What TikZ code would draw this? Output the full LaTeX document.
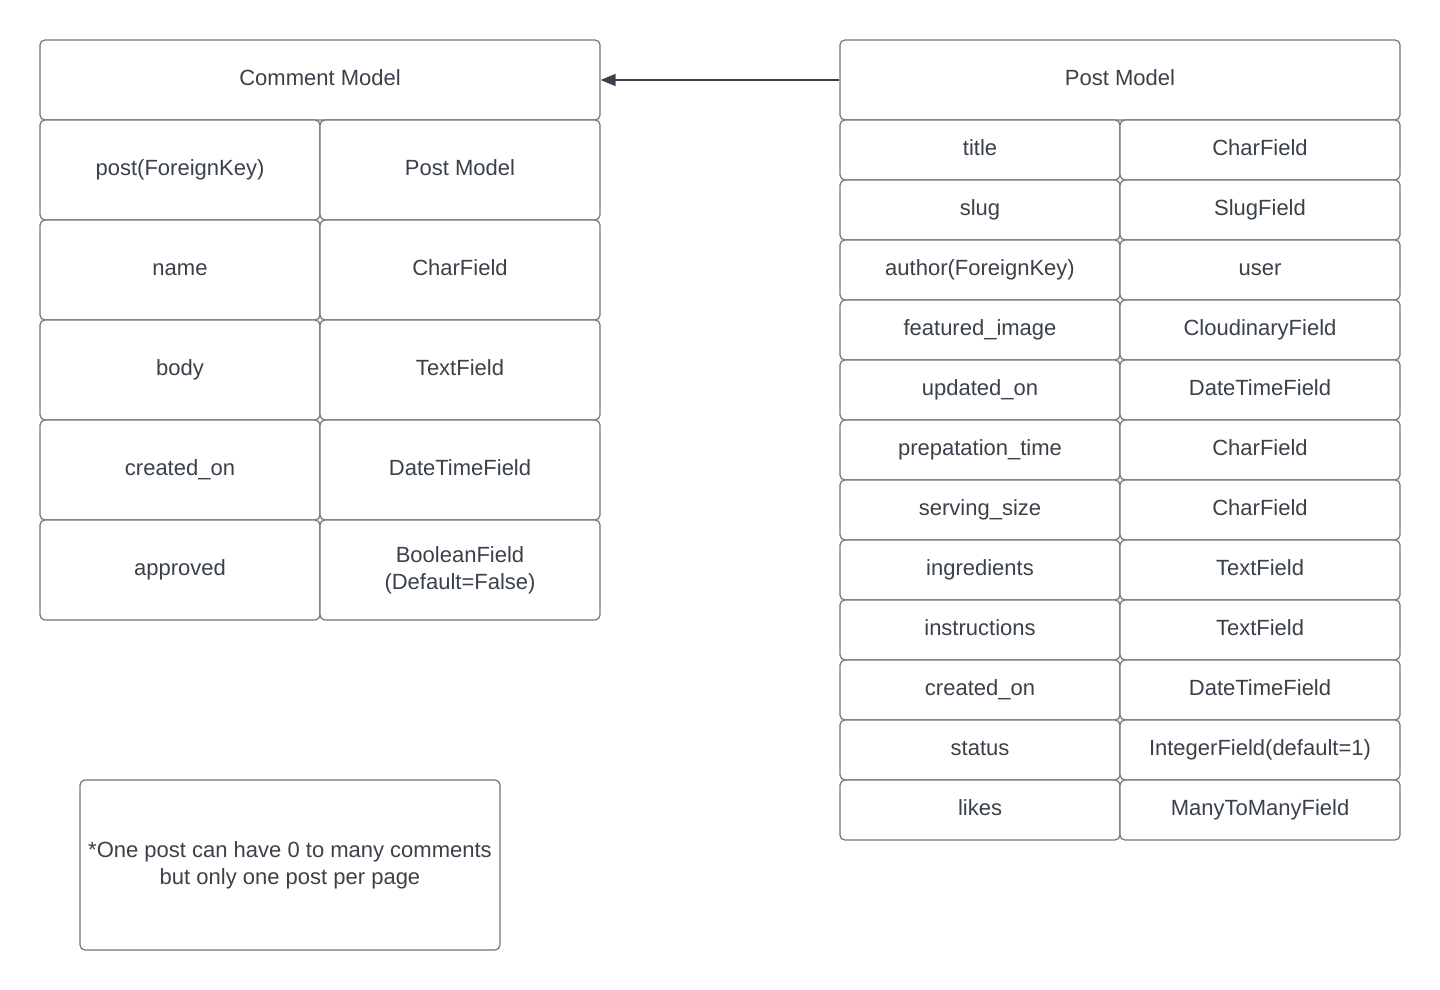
\documentclass[tikz,border=0pt]{standalone}
\usepackage{fontspec}
\setmainfont{Liberation Sans}
\usetikzlibrary{arrows.meta}
\definecolor{txt}{HTML}{3A414A}
\definecolor{edge}{HTML}{71767E}
\begin{document}
\begin{tikzpicture}[x=1pt,y=-1pt,
  base/.style={draw=edge, line width=1.2pt, rounded corners=5pt, fill=white,
    text=txt, font=\fontsize{22}{27}\selectfont, align=center, inner sep=0pt},
  cell/.style={base, text height=16pt, text depth=5pt},
  multi/.style={base},
  link/.style={draw=txt, line width=1.3pt, -{Triangle[length=15pt,width=12pt]}}]
\useasboundingbox (0,0) rectangle (1440,990);
% Comment model
\node[cell, minimum width=560pt, minimum height=80pt] (cm) at (320,80) {Comment Model};
\foreach \n/\a/\b [count=\i from 0] in {c1/post(ForeignKey)/Post Model, c2/name/CharField, c3/body/TextField, c4/created\_on/DateTimeField}{
  \node[cell, minimum width=280pt, minimum height=100pt] (\n a) at (180,170+100*\i) {\a};
  \node[cell, minimum width=280pt, minimum height=100pt] (\n b) at (460,170+100*\i) {\b};
}
\node[cell, minimum width=280pt, minimum height=100pt] (c5a) at (180,570) {approved};
\node[multi, minimum width=280pt, minimum height=100pt] (c5b) at (460,570) {BooleanField\\(Default=False)};
% Post model
\node[cell, minimum width=560pt, minimum height=80pt] (pm) at (1120,80) {Post Model};
\foreach \n/\a/\b [count=\i from 0] in {p1/title/CharField, p2/slug/SlugField, p3/author(ForeignKey)/user, p4/featured\_image/CloudinaryField, p5/updated\_on/DateTimeField, p6/prepatation\_time/CharField, p7/serving\_size/CharField, p8/ingredients/TextField, p9/instructions/TextField, p10/created\_on/DateTimeField, p11/status/IntegerField(default=1), p12/likes/ManyToManyField}{
  \node[cell, minimum width=280pt, minimum height=60pt] (\n a) at (980,150+60*\i) {\a};
  \node[cell, minimum width=280pt, minimum height=60pt] (\n b) at (1260,150+60*\i) {\b};
}
% Note
\node[multi, minimum width=420pt, minimum height=170pt] (note) at (290,865) {*One post can have 0 to many comments\\but only one post per page};
% Connector
\draw[link] (pm.west) -- (cm.east);
\end{tikzpicture}
\end{document}
